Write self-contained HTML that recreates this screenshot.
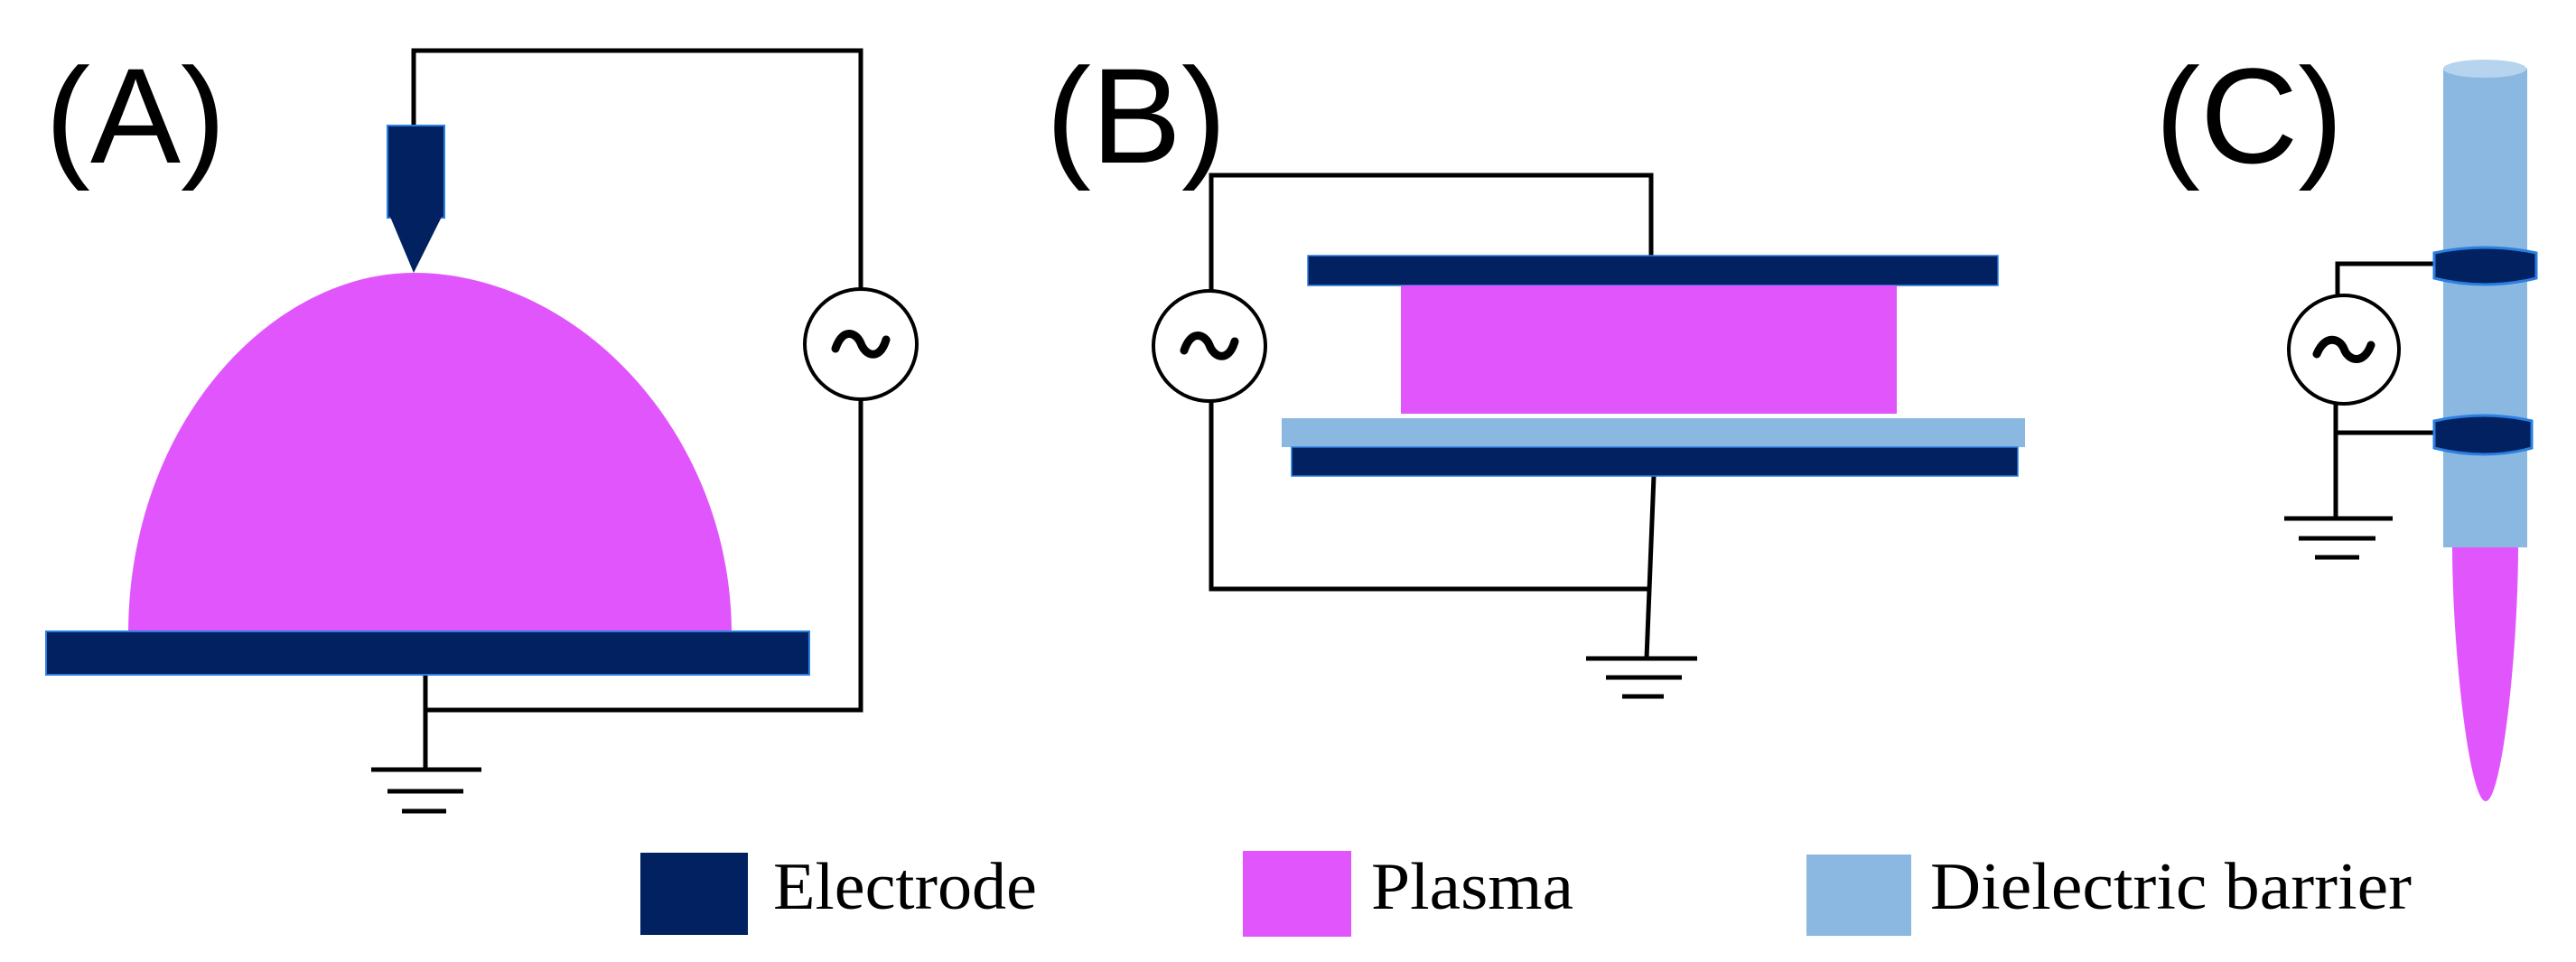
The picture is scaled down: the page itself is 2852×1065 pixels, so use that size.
<!DOCTYPE html>
<html><head><meta charset="utf-8"><style>html,body{margin:0;padding:0;background:#fff}svg{display:block}</style></head>
<body>
<svg width="2852" height="1065" viewBox="0 0 2852 1065" xmlns="http://www.w3.org/2000/svg">
<g font-family="Liberation Sans, sans-serif" font-size="150" fill="#000">
<text x="50" y="180">(A)</text>
<text x="1158" y="180">(B)</text>
<text x="2386" y="180">(C)</text>
</g>
<g stroke="#000" stroke-width="5" fill="none">
<polyline points="458,145 458,56 953,56 953,320"/>
<polyline points="953,442 953,786 471,786"/>
<line x1="471" y1="745" x2="471" y2="852"/>
<line x1="411" y1="852" x2="533" y2="852"/>
<line x1="429" y1="876" x2="513" y2="876"/>
<line x1="445" y1="898" x2="494" y2="898"/>
<polyline points="1828,285 1828,194 1341,194 1341,322"/>
<polyline points="1341,444 1341,652 1825,652"/>
<line x1="1831" y1="527" x2="1823" y2="729"/>
<line x1="1756" y1="729" x2="1879" y2="729"/>
<line x1="1778" y1="750" x2="1862" y2="750"/>
<line x1="1796" y1="771" x2="1842" y2="771"/>
<polyline points="2695,292 2588,292 2588,327"/>
<line x1="2586" y1="448" x2="2586" y2="574"/>
<line x1="2586" y1="479" x2="2695" y2="479"/>
<line x1="2529" y1="574" x2="2649" y2="574"/>
<line x1="2545" y1="596" x2="2630" y2="596"/>
<line x1="2563" y1="617" x2="2612" y2="617"/>
</g>
<path d="M142,702 C142,470 300,302 458,302 C640,302 810,480 810,702 Z" fill="#E156FC"/>
<rect x="51" y="699" width="845" height="48" fill="#022161" stroke="#2a7fe0" stroke-width="2"/>
<rect x="429" y="139" width="63" height="102" fill="#022161" stroke="#2a7fe0" stroke-width="2"/>
<polygon points="432,240 489,240 458,302" fill="#022161"/>
<rect x="1448" y="283" width="764" height="33" fill="#022161" stroke="#2a7fe0" stroke-width="1.5"/>
<rect x="1551" y="316" width="549" height="142" fill="#E156FC"/>
<rect x="1419" y="463" width="823" height="32" fill="#8AB8E0"/>
<rect x="1430" y="495" width="804" height="32" fill="#022161" stroke="#2a7fe0" stroke-width="1.5"/>
<path d="M2715,604 L2788,604 C2788,720 2770,887 2752,887 C2734,887 2715,720 2715,604 Z" fill="#E156FC"/>
<rect x="2705" y="76" width="93" height="530" fill="#8AB8E0"/>
<ellipse cx="2751" cy="76" rx="46" ry="10" fill="#B6D4EE"/>
<path d="M2695,280 Q2751,268 2808,280 L2808,308 Q2751,322 2695,308 Z" fill="#022161" stroke="#2a7fe0" stroke-width="3"/>
<path d="M2695,466 Q2751,454 2803,466 L2803,496 Q2751,510 2695,496 Z" fill="#022161" stroke="#2a7fe0" stroke-width="3"/>
<g fill="#fff" stroke="#000" stroke-width="4">
<ellipse cx="953" cy="381" rx="62" ry="61"/>
<ellipse cx="1339" cy="383" rx="62" ry="61"/>
<ellipse cx="2595" cy="387" rx="61" ry="60"/>
</g>
<g fill="none" stroke="#000" stroke-width="9" stroke-linecap="round">
<path d="M925,386 C933,362 948,368 953,380 C958,394 974,400 981,376"/>
<path d="M1311,388 C1319,364 1334,370 1339,382 C1344,396 1360,402 1367,378"/>
<path d="M2565,392 C2574,370 2590,374 2595,386 C2600,400 2617,404 2625,382"/>
</g>
<rect x="709" y="944" width="119" height="91" fill="#022161"/>
<rect x="1376" y="942" width="120" height="95" fill="#E156FC"/>
<rect x="2000" y="946" width="116" height="90" fill="#8AB8E0"/>
<g font-family="Liberation Serif, serif" font-size="74" fill="#000">
<text x="856" y="1006" textLength="292" lengthAdjust="spacingAndGlyphs">Electrode</text>
<text x="1518" y="1006" textLength="224" lengthAdjust="spacingAndGlyphs">Plasma</text>
<text x="2137" y="1006" textLength="533" lengthAdjust="spacingAndGlyphs">Dielectric barrier</text>
</g>
</svg>
</body></html>
